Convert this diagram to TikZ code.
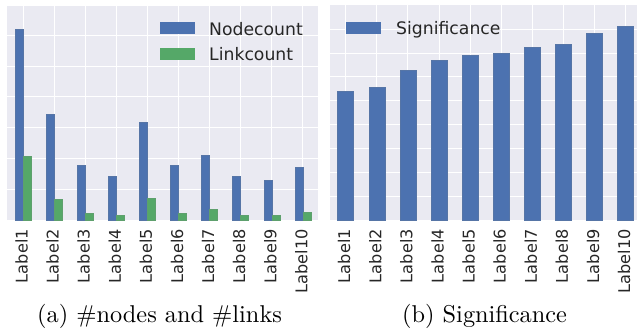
\documentclass[tikz,border=0pt]{standalone}
\usepackage{fontspec}
\newfontfamily\dejavu{DejaVu Sans}
\newfontfamily\capfont{lmroman10-regular.otf}
\definecolor{sbblue}{HTML}{4C72B0}
\definecolor{sbgreen}{HTML}{55A868}
\definecolor{sbbg}{HTML}{EAEAF2}
\definecolor{sbtext}{HTML}{262626}
\begin{document}
\begin{tikzpicture}[x=1bp,y=-1bp,
  panel/.style={fill=sbbg,draw=none},
  gridline/.style={draw=white,line width=1bp},
  bluebar/.style={fill=sbblue,draw=sbblue!80!gray,line width=0.5bp},
  greenbar/.style={fill=sbgreen,draw=sbgreen!80!gray,line width=0.5bp},
  ticklab/.style={rotate=90,anchor=east,inner sep=0pt,text=sbtext,font=\dejavu\fontsize{16.2}{19}\selectfont},
  legtext/.style={anchor=base west,inner sep=0pt,text=sbtext,font=\dejavu\fontsize{17.3}{20}\selectfont},
  caption/.style={anchor=base west,inner sep=0pt,font=\capfont\fontsize{24.4}{28}\selectfont}]
\useasboundingbox (0,0) rectangle (639,328);
% ---------- left panel ----------
\fill[panel] (7,6) rectangle (318,220);
\foreach \k in {1,...,6} \draw[gridline] (7,220-30.8*\k) -- (318,220-30.8*\k);
\foreach \i in {0,...,9} \draw[gridline] (23+31.1*\i,6) -- (23+31.1*\i,220);
\foreach \i/\b/\g in {0/29/156,1/114/199,2/165/213,3/176/215,4/122/198,5/165/213,6/155/209,7/176/215,8/180/215,9/167/212}{
  \draw[bluebar] (23+31.1*\i-8,220) rectangle (23+31.1*\i,\b);
  \draw[greenbar] (23+31.1*\i,220) rectangle (23+31.1*\i+8,\g);
}
\foreach \i in {1,...,10} \node[ticklab] (la\i) at (23+31.1*\i-31.1-1.5,229) {Label\i};
\fill[sbblue] (160,22.3) rectangle (195,33.5);
\fill[sbgreen] (160,48) rectangle (195,59.5);
\node[legtext] (lnode) at (209,35) {Nodecount};
\node[legtext] (llink) at (209,60) {Linkcount};
% ---------- right panel ----------
\fill[panel] (330,5) rectangle (637,220);
\foreach \k in {1,...,8} \draw[gridline] (330,220-23.85*\k) -- (637,220-23.85*\k);
\foreach \i in {0,...,9} \draw[gridline] (345.7+31.1*\i,5) -- (345.7+31.1*\i,220);
\foreach \i/\b in {0/91,1/87,2/70,3/60,4/55,5/53,6/47,7/44,8/33,9/26}{
  \draw[bluebar] (345.7+31.1*\i-8,220) rectangle (345.7+31.1*\i+8,\b);
}
\foreach \i in {1,...,10} \node[ticklab] (lb\i) at (345.7+31.1*\i-31.1-1.5,229) {Label\i};
\fill[sbblue] (346,22.3) rectangle (381,33.5);
\node[legtext] (lsig) at (396,34.5) {Significance};
% ---------- captions ----------
\node[caption] (capa) at (37,322) {(a) \#nodes and \#links};
\node[caption] (capb) at (402,322) {(b) Significance};
\end{tikzpicture}
\end{document}
